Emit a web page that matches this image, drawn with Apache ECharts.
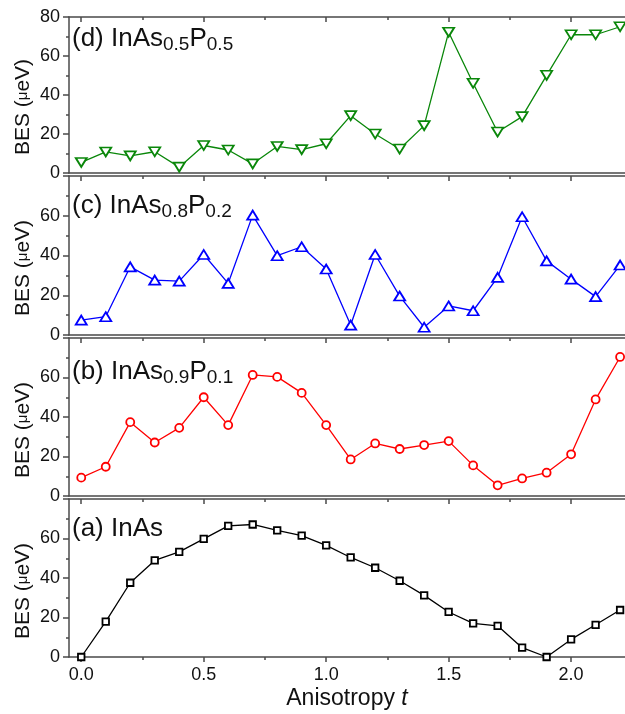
<!DOCTYPE html>
<html>
<head>
<meta charset="utf-8">
<script src="https://cdn.jsdelivr.net/npm/echarts@6/dist/echarts.min.js"></script>
<style>
html,body{margin:0;padding:0;background:#fff;}
#chart{width:625px;height:714px;}
</style>
</head>
<body>
<div id="chart"></div>
<script>
// ---- data ----
const anisotropyT = [0.0,0.1,0.2,0.3,0.4,0.5,0.6,0.7,0.8,0.9,1.0,1.1,1.2,1.3,1.4,1.5,1.6,1.7,1.8,1.9,2.0,2.1,2.2];
const besInAs05P05 = [5.4,10.8,8.8,10.9,3.0,14.1,11.8,4.7,13.6,12.0,15.0,29.4,20.0,12.3,24.3,72.2,46.0,21.0,28.9,50.1,70.9,70.9,75.0];
const besInAs08P02 = [7.5,9.2,34.3,27.6,27.1,40.5,26.0,60.3,39.9,44.4,33.2,5.0,40.5,19.6,3.9,14.6,12.2,29.0,59.5,37.3,28.1,19.3,35.2];
const besInAs09P01 = [9.3,14.8,37.4,27.1,34.5,50.0,35.9,61.3,60.3,52.2,35.9,18.5,26.6,23.8,25.8,27.8,15.5,5.4,8.9,11.8,21.1,48.9,70.4];
const besInAs = [0.0,17.9,37.6,48.9,53.2,59.8,66.4,67.1,64.1,61.5,56.5,50.4,45.2,38.6,31.2,22.8,17.0,15.8,4.7,0.0,8.9,16.3,23.8];
const xMajorTicks = [0, 0.5, 1.0, 1.5, 2.0];
const xMinorTicks = [0.25, 0.75, 1.25, 1.75];
const panelLabels = [
  ['(d) InAs', '0.5', 'P', '0.5'],
  ['(c) InAs', '0.8', 'P', '0.2'],
  ['(b) InAs', '0.9', 'P', '0.1'],
  ['(a) InAs']
];
const panelSeries = [besInAs05P05, besInAs08P02, besInAs09P01, besInAs];

// ---- styling / layout ----
const FONT = 'Liberation Sans, Arial, sans-serif';
const axisColor = '#4a4a4a';
const panels = [
  {top: 17,  height: 156, color: '#0a870a', symbol: 'triangle', rotate: 180, size: [11, 9]},
  {top: 176, height: 159, color: '#0000ff', symbol: 'triangle', rotate: 0,   size: [11, 9]},
  {top: 338, height: 158, color: '#ff0000', symbol: 'circle',   rotate: 0,   size: 8},
  {top: 499, height: 158, color: '#000000', symbol: 'rect',     rotate: 0,   size: 6.5}
];
const labelBaselines = [48, 215, 381, 538];
const yNameCenters = [107, 268, 430, 591];

const grids = [], xAxes = [], yAxes = [], series = [], graphics = [];
const lineStyleAxis = {color: axisColor, width: 1.5};

panels.forEach((p, i) => {
  grids.push({left: 69, width: 557, top: p.top, height: p.height});
  const isBottom = i === panels.length - 1;
  const bottomIdx = xAxes.length;
  xAxes.push({
    type: 'value', gridIndex: i, position: 'bottom', min: -0.05, max: 2.22,
    axisLine: {show: true, onZero: false, lineStyle: lineStyleAxis},
    axisTick: {show: isBottom, inside: false, length: 5, customValues: xMajorTicks, lineStyle: lineStyleAxis},
    axisLabel: {show: isBottom, customValues: xMajorTicks, formatter: v => v.toFixed(1),
      fontSize: 18, fontFamily: FONT, color: '#111', margin: 9},
    splitLine: {show: false},
    name: isBottom ? '{a|Anisotropy }{i|t}' : '',
    nameLocation: 'middle', nameGap: 30,
    nameTextStyle: {rich: {
      a: {fontSize: 23, fontFamily: FONT, color: '#111'},
      i: {fontSize: 23, fontFamily: FONT, fontStyle: 'italic', color: '#111'}
    }}
  });
  if (isBottom) {
    xAxes.push({
      type: 'value', gridIndex: i, position: 'bottom', min: -0.05, max: 2.22,
      axisLine: {show: false, onZero: false},
      axisTick: {show: true, inside: false, length: 3, customValues: xMinorTicks, lineStyle: lineStyleAxis},
      axisLabel: {show: false}, splitLine: {show: false}
    });
  }
  xAxes.push({
    type: 'value', gridIndex: i, position: 'top', min: -0.05, max: 2.22,
    axisLine: {show: true, onZero: false, lineStyle: lineStyleAxis},
    axisTick: {show: true, inside: true, length: 5, customValues: xMajorTicks, lineStyle: lineStyleAxis},
    axisLabel: {show: false}, splitLine: {show: false}
  });
  xAxes.push({
    type: 'value', gridIndex: i, position: 'top', min: -0.05, max: 2.22,
    axisLine: {show: false, onZero: false},
    axisTick: {show: true, inside: true, length: 3, customValues: xMinorTicks, lineStyle: lineStyleAxis},
    axisLabel: {show: false}, splitLine: {show: false}
  });
  yAxes.push({
    type: 'value', gridIndex: i, position: 'left', min: 0, max: 80, interval: 20,
    axisLine: {show: true, onZero: false, lineStyle: lineStyleAxis},
    axisTick: {show: true, inside: false, length: 6, lineStyle: lineStyleAxis},
    minorTick: {show: true, splitNumber: 2, length: 3, lineStyle: lineStyleAxis},
    axisLabel: {fontSize: 18, fontFamily: FONT, color: '#111', margin: 9,
      formatter: v => (i > 0 && v === 80) ? '' : String(v)},
    splitLine: {show: false}, minorSplitLine: {show: false}
  });
  series.push({
    type: 'line', xAxisIndex: bottomIdx, yAxisIndex: i,
    data: anisotropyT.map((t, k) => [t, panelSeries[i][k]]),
    symbol: p.symbol, symbolSize: p.size, symbolRotate: p.rotate, showAllSymbol: true,
    lineStyle: {color: p.color, width: 1.3},
    itemStyle: {color: '#ffffff', borderColor: p.color, borderWidth: 1.8},
    emphasis: {disabled: true}, animation: false, z: 3
  });

  const lab = panelLabels[i];
  let txt = '{n|' + lab[0] + '}';
  if (lab.length > 1) txt += '{s|' + lab[1] + '}{n|' + lab[2] + '}{s|' + lab[3] + '}';
  graphics.push({
    type: 'text', x: 72, y: labelBaselines[i] + 6, z: 10,
    style: {
      text: txt, align: 'left', verticalAlign: 'bottom',
      rich: {
        n: {fontSize: 26, fontFamily: FONT, fill: '#111', lineHeight: 30},
        s: {fontSize: 19, fontFamily: FONT, fill: '#111', lineHeight: 14, verticalAlign: 'bottom'}
      }
    }
  });
  graphics.push({
    type: 'text', x: 23, y: yNameCenters[i], rotation: Math.PI / 2, z: 10,
    style: {
      text: '{a|BES (}{b|μ}{a|eV)}', align: 'center', verticalAlign: 'middle',
      rich: {
        a: {fontSize: 21, fontFamily: FONT, fill: '#111'},
        b: {fontSize: 15, fontFamily: FONT, fill: '#111'}
      }
    }
  });
});

const chart = echarts.init(document.getElementById('chart'), null, {renderer: 'canvas'});
chart.setOption({
  animation: false,
  backgroundColor: '#ffffff',
  grid: grids, xAxis: xAxes, yAxis: yAxes, series: series, graphic: graphics
});
</script>
</body>
</html>
